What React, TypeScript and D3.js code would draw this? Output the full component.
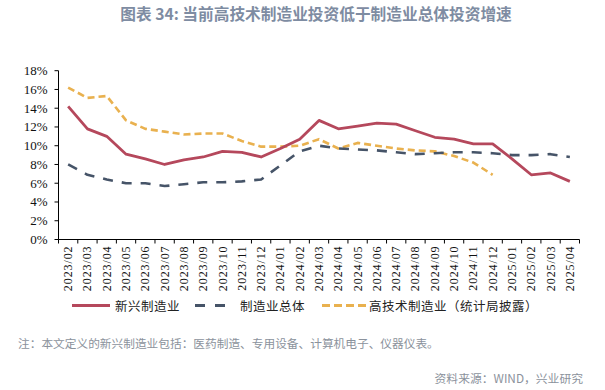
import * as d3 from 'd3'

// x categories (month end)
const months = [
  '2023/02', '2023/03', '2023/04', '2023/05', '2023/06', '2023/07', '2023/08', '2023/09',
  '2023/10', '2023/11', '2023/12', '2024/01', '2024/02', '2024/03', '2024/04', '2024/05',
  '2024/06', '2024/07', '2024/08', '2024/09', '2024/10', '2024/11', '2024/12', '2025/01',
  '2025/02', '2025/03', '2025/04',
]

// 新兴制造业
const emerging = [
  14.2, 11.8, 11.0, 9.1, 8.6, 8.0, 8.5, 8.8, 9.4, 9.3, 8.8, 9.7, 10.7, 12.7, 11.8, 12.1,
  12.4, 12.3, 11.6, 10.9, 10.7, 10.2, 10.2, 8.6, 6.9, 7.1, 6.2,
]
// 制造业总体
const overall = [
  8.0, 6.9, 6.4, 6.0, 6.0, 5.7, 5.9, 6.1, 6.1, 6.2, 6.4, 7.9, 9.4, 10.0, 9.7, 9.6,
  9.5, 9.3, 9.1, 9.2, 9.3, 9.3, 9.2, 9.0, 9.0, 9.1, 8.8,
]
// 高技术制造业（统计局披露）, ends 2024/12
const highTech = [
  16.2, 15.1, 15.3, 12.7, 11.8, 11.5, 11.2, 11.3, 11.3, 10.5, 9.9, 9.9, 10.0, 10.7, 9.7, 10.3,
  10.0, 9.7, 9.5, 9.4, 8.9, 8.2, 6.9,
]

const yTicks = [0, 2, 4, 6, 8, 10, 12, 14, 16, 18]

const W = 605
const H = 390
const plot = { left: 58.5, right: 579.5, top: 70.7, bottom: 239.5 }

const serif = '"Liberation Serif", "Times New Roman", serif'
const cjk = '"Noto Sans CJK SC", "Noto Sans", sans-serif'

export default function App() {
  const x = d3.scaleBand<string>().domain(months).range([plot.left, plot.right]).padding(0)
  const y = d3.scaleLinear().domain([0, 18]).range([plot.bottom, plot.top])
  const cx = (i: number) => (x(months[i]) as number) + x.bandwidth() / 2

  const line = d3
    .line<number>()
    .x((_, i) => cx(i))
    .y(d => y(d))

  const series = [
    { name: '新兴制造业', data: emerging, color: '#b5485c', dash: '' },
    { name: '制造业总体', data: overall, color: '#465468', dash: '10,9' },
    { name: '高技术制造业（统计局披露）', data: highTech, color: '#e9b14f', dash: '7,4' },
  ]

  const boundaries = months.map(m => x(m) as number).concat([plot.right])

  return (
    <svg
      width={W}
      height={H}
      style={{ position: 'absolute', left: 0, top: 0, background: '#fff' }}
    >
      <text
        x={316}
        y={13}
        textAnchor="middle"
        dominantBaseline="central"
        fontFamily={cjk}
        fontWeight={700}
        fontSize={15.7}
        fill="#7e8ca2"
      >
        图表 34: 当前高技术制造业投资低于制造业总体投资增速
      </text>

      {/* y axis */}
      <line x1={plot.left} x2={plot.left} y1={plot.top} y2={plot.bottom} stroke="#000" strokeWidth={1} />
      {yTicks.map(t => (
        <g key={t}>
          <line x1={plot.left - 4} x2={plot.left} y1={y(t)} y2={y(t)} stroke="#000" strokeWidth={1} />
          <text
            x={plot.left - 11}
            y={y(t)}
            textAnchor="end"
            dominantBaseline="central"
            fontFamily={serif}
            fontSize={13}
            fill="#111"
          >
            {t}%
          </text>
        </g>
      ))}

      {/* x axis */}
      <line x1={plot.left} x2={plot.right} y1={plot.bottom} y2={plot.bottom} stroke="#000" strokeWidth={1} />
      {boundaries.map((b, i) => (
        <line key={i} x1={b} x2={b} y1={plot.bottom} y2={plot.bottom + 4} stroke="#000" strokeWidth={1} />
      ))}
      {months.map((m, i) => (
        <text
          key={m}
          transform={`translate(${cx(i)},${plot.bottom + 6}) rotate(-90)`}
          textAnchor="end"
          dominantBaseline="central"
          fontFamily={serif}
          fontSize={12}
          letterSpacing={0.9}
          fill="#111"
        >
          {m}
        </text>
      ))}

      {/* lines */}
      {[series[2], series[1], series[0]].map(s => (
        <path
          key={s.name}
          d={line(s.data) || ''}
          fill="none"
          stroke={s.color}
          strokeWidth={s.dash ? 2.6 : 2.8}
          strokeDasharray={s.dash || undefined}
          strokeLinejoin="round"
        />
      ))}

      {/* legend */}
      <g fontFamily={cjk} fontSize={12.5} fill="#222" letterSpacing={0.5}>
        <line x1={72} x2={110} y1={305.5} y2={305.5} stroke={series[0].color} strokeWidth={3} />
        <text x={115} y={305.5} dominantBaseline="central">{series[0].name}</text>
        <line x1={195} x2={226} y1={305.5} y2={305.5} stroke={series[1].color} strokeWidth={3} strokeDasharray="10,10" />
        <text x={240} y={305.5} dominantBaseline="central">{series[1].name}</text>
        <line x1={322} x2={367} y1={305.5} y2={305.5} stroke={series[2].color} strokeWidth={3} strokeDasharray="8,4" />
        <text x={369} y={305.5} dominantBaseline="central">{series[2].name}</text>
      </g>

      <text
        x={18}
        y={342}
        dominantBaseline="central"
        fontFamily={cjk}
        fontSize={11.7}
        fill="#8b929c"
      >
        注：本文定义的新兴制造业包括：医药制造、专用设备、计算机电子、仪器仪表。
      </text>
      <text
        x={583}
        y={377}
        textAnchor="end"
        dominantBaseline="central"
        fontFamily={cjk}
        fontSize={11.8}
        fill="#8b929c"
      >
        资料来源：WIND，兴业研究
      </text>
    </svg>
  )
}
